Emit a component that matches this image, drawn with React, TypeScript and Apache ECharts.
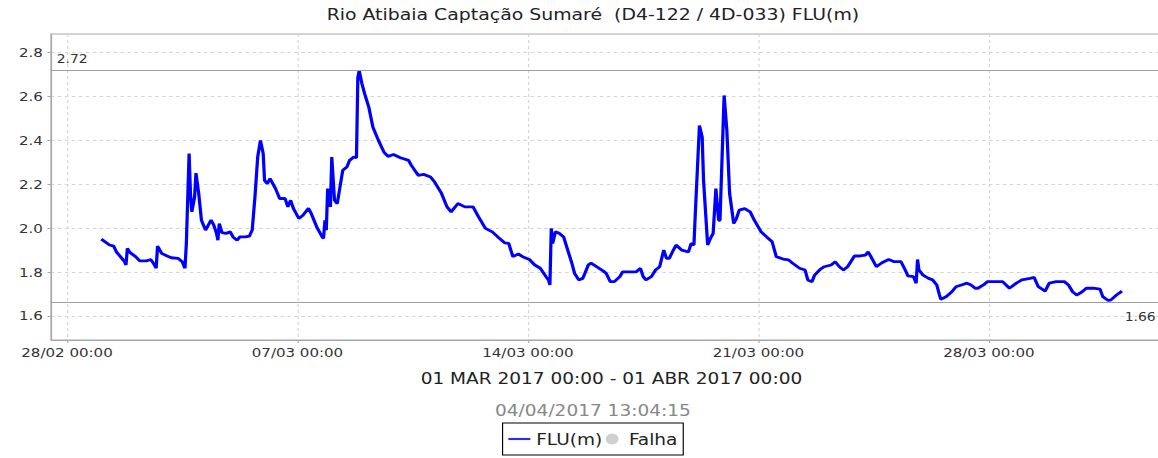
import React, { useEffect, useRef } from "react";
import * as echarts from "echarts";

const titleText = "Rio Atibaia Captação Sumaré  (D4-122 / 4D-033) FLU(m)";
const periodText = "01 MAR 2017 00:00 - 01 ABR 2017 00:00";
const updatedText = "04/04/2017 13:04:15";
const seriesName = "FLU(m)";
const failName = "Falha";

// hours since 01/03/2017 00:00
const hours = [
  1, 7, 10, 12, 16, 18, 19, 20, 22, 26, 29, 34, 37, 39, 41, 42, 45, 49, 52, 57, 60, 62, 63, 65, 66, 67, 69, 70, 72, 74,
  77, 79, 81, 83, 85, 86, 87, 89, 92, 95, 97, 100, 102, 106, 109, 111, 113, 115, 117, 119, 120, 122, 124, 128, 131, 135, 137, 139, 141, 145,
  148, 152, 154, 158, 162, 163, 164, 165, 166, 168, 169, 171, 173, 175, 177, 180, 182, 185, 187, 188, 189, 191, 193, 196, 199, 203, 207, 210, 214, 219,
  225, 227, 232, 236, 241, 244, 249, 253, 256, 261, 266, 272, 276, 281, 286, 290, 295, 298, 301, 305, 309, 313, 317, 321, 326, 327, 328, 329, 330, 332,
  335, 338, 341, 344, 346, 349, 352, 356, 358, 362, 367, 369, 372, 375, 379, 381, 386, 391, 394, 396, 398, 402, 405, 408, 411, 413, 415, 418, 420, 424,
  429, 431, 433, 434, 437, 439, 440, 443, 445, 447, 449, 451, 452, 455, 457, 459, 462, 464, 466, 470, 474, 477, 482, 486, 490, 493, 498, 502, 505, 510,
  514, 516, 519, 521, 525, 528, 533, 536, 539, 542, 545, 550, 554, 558, 560, 562, 566, 570, 575, 579, 584, 587, 589, 593, 595, 596, 597, 600, 604, 607,
  610, 612, 613, 617, 621, 624, 628, 632, 635, 638, 640, 644, 647, 654, 658, 663, 668, 672, 678, 681, 684, 689, 692, 697, 703, 706, 709, 712, 716, 719,
  724, 729, 731, 735, 737, 741, 745,
];
const levels = [
  1.95, 1.923, 1.918, 1.892, 1.862, 1.847, 1.832, 1.908, 1.888, 1.87, 1.851, 1.851, 1.857, 1.84, 1.817, 1.918, 1.885, 1.873, 1.865, 1.862, 1.847, 1.817, 1.93, 2.34, 2.158, 2.074, 2.142, 2.251, 2.158, 2.036,
  1.991, 2.014, 2.036, 2.014, 1.976, 1.945, 2.021, 1.979, 1.976, 1.983, 1.96, 1.945, 1.96, 1.96, 1.964, 1.991, 2.142, 2.324, 2.4, 2.34, 2.218, 2.203, 2.226, 2.18, 2.135, 2.135, 2.097, 2.127, 2.09, 2.044,
  2.059, 2.09, 2.067, 2.006, 1.96, 1.953, 2.036, 1.991, 2.18, 2.097, 2.324, 2.127, 2.112, 2.188, 2.264, 2.279, 2.309, 2.324, 2.321, 2.688, 2.718, 2.658, 2.612, 2.551, 2.46, 2.4, 2.347, 2.327, 2.336, 2.321,
  2.309, 2.286, 2.241, 2.245, 2.233, 2.21, 2.158, 2.097, 2.074, 2.112, 2.097, 2.097, 2.051, 1.999, 1.983, 1.96, 1.933, 1.93, 1.87, 1.882, 1.867, 1.857, 1.832, 1.817, 1.771, 1.764, 1.741, 1.999, 1.93, 1.983,
  1.976, 1.96, 1.9, 1.84, 1.794, 1.764, 1.771, 1.832, 1.84, 1.824, 1.804, 1.794, 1.756, 1.756, 1.779, 1.801, 1.801, 1.801, 1.817, 1.779, 1.764, 1.779, 1.809, 1.824, 1.9, 1.862, 1.862, 1.9, 1.923, 1.9,
  1.892, 1.93, 1.923, 2.067, 2.468, 2.415, 2.218, 1.923, 1.953, 1.976, 2.18, 2.036, 2.036, 2.605, 2.445, 2.158, 2.021, 2.044, 2.082, 2.089, 2.074, 2.036, 1.983, 1.96, 1.938, 1.87, 1.859, 1.855, 1.84, 1.817,
  1.809, 1.764, 1.756, 1.786, 1.812, 1.824, 1.832, 1.847, 1.824, 1.809, 1.824, 1.873, 1.873, 1.877, 1.892, 1.87, 1.824, 1.842, 1.857, 1.847, 1.847, 1.809, 1.782, 1.779, 1.749, 1.857, 1.809, 1.786, 1.771, 1.764,
  1.741, 1.695, 1.675, 1.688, 1.71, 1.733, 1.741, 1.749, 1.741, 1.726, 1.726, 1.741, 1.756, 1.756, 1.756, 1.726, 1.749, 1.764, 1.771, 1.775, 1.733, 1.713, 1.749, 1.756, 1.756, 1.741, 1.71, 1.695, 1.71, 1.726,
  1.726, 1.722, 1.688, 1.67, 1.673, 1.695, 1.713,
];

const xTickHours = [-24, 144, 312, 480, 648];
const xTickLabels = ["28/02 00:00", "07/03 00:00", "14/03 00:00", "21/03 00:00", "28/03 00:00"];
const yTicks = [1.6, 1.8, 2.0, 2.2, 2.4, 2.6, 2.8];
const maxLevel = 2.72;
const minLevel = 1.66;

const X_MIN = -35.7;
const X_MAX = 781.4;
const Y_MIN = 1.49;
const Y_MAX = 2.885;

const FONT = "DejaVu Sans";
const AXIS_GRAY = "#a8a8a8";
const GRID_GRAY = "#d4d4d4";

export default function App() {
  const ref = useRef<HTMLDivElement>(null);

  useEffect(() => {
    if (!ref.current) return;
    const chart = echarts.init(ref.current, undefined, { renderer: "svg" });
    const option: any = {
      animation: false,
      textStyle: { fontFamily: FONT },
      title: [
        {
          text: titleText,
          left: 512,
          top: 6,
          textAlign: "center",
          padding: 0,
          textStyle: { fontSize: 16.3, fontWeight: "normal", color: "#222", fontFamily: FONT },
        },
        {
          text: updatedText,
          left: 512,
          top: 402,
          textAlign: "center",
          padding: 0,
          textStyle: { fontSize: 16, fontWeight: "normal", color: "#888", fontFamily: FONT },
        },
      ],
      grid: {
        left: 44,
        right: 12,
        top: 34,
        bottom: 118,
        show: true,
        borderColor: AXIS_GRAY,
        borderWidth: 1,
        containLabel: false,
        outerBoundsMode: "none",
      },
      xAxis: {
        type: "value",
        min: X_MIN,
        max: X_MAX,
        name: periodText,
        nameLocation: "middle",
        nameGap: 30,
        nameTextStyle: { fontSize: 16, color: "#222", fontFamily: FONT },
        axisLine: { show: true, onZero: false, lineStyle: { color: AXIS_GRAY } },
        axisTick: { show: true, length: 3, customValues: xTickHours, lineStyle: { color: AXIS_GRAY } },
        axisLabel: {
          customValues: xTickHours,
          formatter: (v: number) => {
            const i = xTickHours.findIndex((t) => Math.abs(t - v) < 0.01);
            return i >= 0 ? xTickLabels[i] : "";
          },
          fontSize: 13,
          color: "#333",
          margin: 6,
          fontFamily: FONT,
        },
        splitLine: { show: true, lineStyle: { color: GRID_GRAY, type: [3, 3], width: 1 } },
      },
      yAxis: {
        type: "value",
        min: Y_MIN,
        max: Y_MAX,
        axisLine: { show: true, onZero: false, lineStyle: { color: AXIS_GRAY } },
        axisTick: { show: true, length: 3, customValues: yTicks, lineStyle: { color: AXIS_GRAY } },
        axisLabel: {
          customValues: yTicks,
          formatter: (v: number) => v.toFixed(1),
          fontSize: 13,
          color: "#333",
          margin: 7,
          fontFamily: FONT,
        },
        splitLine: { show: true, lineStyle: { color: GRID_GRAY, type: [3, 3], width: 1 } },
      },
      legend: {
        left: 434,
        top: 423,
        orient: "horizontal",
        data: [
          { name: seriesName, icon: "path://M0,0H20V2.2H0Z" },
          { name: failName, icon: "circle" },
        ],
        itemWidth: 19,
        itemHeight: 11,
        itemGap: 3,
        borderColor: "#000",
        borderWidth: 1,
        borderRadius: 0,
        padding: [8, 5, 8, 5],
        selectedMode: false,
        textStyle: { fontSize: 16, color: "#222", fontFamily: FONT },
      },
      series: [
        {
          name: seriesName,
          type: "line",
          data: hours.map((h, i) => [h, levels[i]]),
          symbol: "none",
          showSymbol: false,
          lineStyle: { color: "#0000ff", width: 2.8 },
          itemStyle: { color: "#2a2aff" },
          z: 3,
          markLine: {
            silent: true,
            symbol: ["none", "none"],
            animation: false,
            lineStyle: { color: "#a0a0a0", type: "solid", width: 1 },
            label: {
              color: "#333",
              fontSize: 12,
              fontFamily: FONT,
              formatter: (p: any) => Number(p.value).toFixed(2),
            },
            data: [
              { yAxis: maxLevel, label: { position: "insideStartTop" } },
              { yAxis: minLevel, label: { position: "insideEndBottom", distance: [14, 8] } },
            ],
          },
        },
        {
          name: failName,
          type: "scatter",
          data: [],
          itemStyle: { color: "#c4c4c4" },
        },
      ],
    };
    chart.setOption(option);
    return () => chart.dispose();
  }, []);

  return (
    <div
      style={{
        position: "fixed",
        left: 0,
        top: 0,
        width: 1158,
        height: 458,
        overflow: "hidden",
        background: "#fff",
      }}
    >
      <div
        ref={ref}
        style={{ width: 1024, height: 458, transform: "scaleX(1.158)", transformOrigin: "0 0" }}
      />
    </div>
  );
}
